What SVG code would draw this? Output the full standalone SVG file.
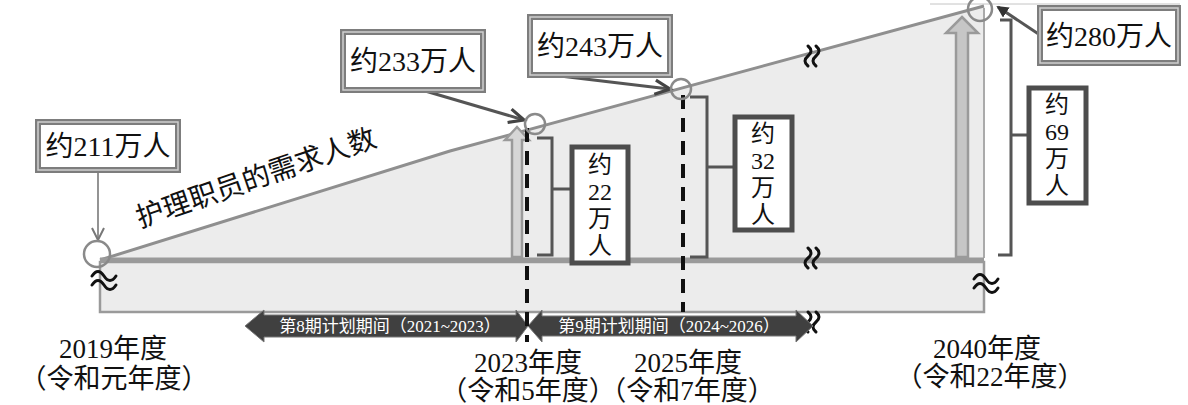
<svg xmlns="http://www.w3.org/2000/svg" width="1188" height="405" viewBox="0 0 1188 405">
<style>
.t{font-family:"Liberation Serif","Noto Sans CJK SC",serif;fill:#111}
.box{fill:#fff;stroke:#7d7d7d;stroke-width:6}
.boxin{fill:none;stroke:#cfcfcf;stroke-width:1.5}
.vbox{fill:#fff;stroke:#4d4d4d;stroke-width:5}
.br{fill:none;stroke:#555;stroke-width:3}
.dash{stroke:#111;stroke-width:4;stroke-dasharray:14 9}
.sq{fill:none;stroke:#111;stroke-width:3;stroke-linecap:round}
.circ{fill:none;stroke:#8a8a8a;stroke-width:2.5}
.con{fill:none;stroke:#555;stroke-width:3}
.head{fill:none;stroke:#444;stroke-width:3.2;stroke-linejoin:miter}
.up{stroke:#9a9a9a;stroke-width:2.5}
.bar{fill:#404040;stroke:#777;stroke-width:1}
.bt{font-family:"Liberation Serif","Noto Sans CJK SC",serif;fill:#fff;font-size:17px}
</style>
<defs>
<marker id="thinA" viewBox="0 0 14 14" refX="13" refY="7" markerWidth="14" markerHeight="14" markerUnits="userSpaceOnUse" orient="auto"><path d="M1,1 L13,7 L1,13" fill="none" stroke="#777" stroke-width="2"/></marker>
<marker id="fillA" viewBox="0 0 12 12" refX="10" refY="6" markerWidth="12" markerHeight="12" markerUnits="userSpaceOnUse" orient="auto"><path d="M0,0 L12,6 L0,12 Z" fill="#333"/></marker>
<g id="sqz"><path class="sq" d="M0,0 q6,5 0,10 q-6,5 0,10"/><path class="sq" d="M8,0 q6,5 0,10 q-6,5 0,10"/></g>
<g id="approx"><path class="sq" stroke-width="3.5" d="M0,4 c4,-6 8,-6 12,0 s8,6 12,0"/><path class="sq" stroke-width="3.5" d="M0,13 c4,-6 8,-6 12,0 s8,6 12,0"/></g>
</defs>

<g id="background">
<line x1="930" y1="4" x2="1180" y2="4" stroke="#c4c4c4" stroke-width="1"/>
<polygon points="100,260 450,151 984,7 984,260" fill="#ececec"/>
<rect x="100" y="262" width="884" height="50" fill="#ececec" stroke="#9a9a9a" stroke-width="2.5"/>
<line x1="984" y1="8" x2="984" y2="258" stroke="#aaa" stroke-width="2"/>
<polyline points="100,260 450,151 984,6" fill="none" stroke="#8f8f8f" stroke-width="3"/>
<line x1="100" y1="260" x2="984" y2="260" stroke="#9a9a9a" stroke-width="5"/>
</g>

<g id="title">
<text class="t" font-size="28" transform="translate(140,228) rotate(-19)">护理职员的需求人数</text>
</g>

<g id="breaks">
<use href="#sqz" x="808" y="46"/>
<use href="#sqz" x="808" y="248"/>
<use href="#sqz" x="808" y="312"/>
<use href="#approx" x="92" y="272"/>
<use href="#approx" x="974" y="275"/>
</g>

<g id="uparrows">
<polygon class="up" fill="#d6d6d6" points="517,127 529,140 522,140 522,257 512,257 512,140 505,140"/>
<polygon class="up" fill="#c6c6c6" points="962,17 978,33 968,33 968,257 956,257 956,33 946,33"/>
</g>

<g id="periods">
<polygon class="bar" points="245,326 264,310 264,315 516,315 516,310 528,326 516,342 516,337 264,337 264,342"/>
<text class="bt" x="390" y="326" text-anchor="middle" dominant-baseline="central">第8期计划期间（2021~2023）</text>
<polygon class="bar" points="528,326 542,310 542,316 796,316 796,310 813,326 796,342 796,336 542,336 542,342"/>
<text class="bt" x="669" y="326" text-anchor="middle" dominant-baseline="central">第9期计划期间（2024~2026）</text>
</g>

<g id="connectors">
<line class="dash" x1="527" y1="128" x2="527" y2="342"/>
<line class="dash" x1="683" y1="95" x2="683" y2="312"/>
<line x1="98" y1="172" x2="98" y2="240" stroke="#888" stroke-width="1.8" marker-end="url(#thinA)"/>
<line class="con" x1="415" y1="88" x2="523" y2="119.7"/>
<path class="head" d="M511.6,109.1 L524,120 L507.6,122.5"/>
<line class="con" x1="560" y1="76" x2="669" y2="88.9"/>
<path class="head" d="M655.9,80.2 L670,89 L654.3,94.2"/>
<line class="con" x1="1040" y1="35" x2="998" y2="7" marker-end="url(#fillA)"/>
<path class="br" d="M537,138 H552 V255 H537 M552,189 H570"/>
<path class="br" d="M690,97 H707 V257 H690 M707,167 H733"/>
<path class="br" d="M1000,20 H1011 V255 H998 M1011,135 H1027"/>
</g>

<g id="points">
<circle class="circ" cx="97" cy="254" r="13"/>
<circle class="circ" cx="535" cy="124" r="10"/>
<circle class="circ" cx="681" cy="89" r="10"/>
<circle class="circ" cx="980" cy="9" r="12"/>
</g>

<g id="n211">
<rect class="box" x="38" y="122" width="140" height="48"/>
<rect class="boxin" x="38" y="122" width="140" height="48"/>
<text class="t" font-size="28" x="108" y="146" text-anchor="middle" dominant-baseline="central">约211万人</text>
</g>
<g id="n233">
<rect class="box" x="343" y="32" width="140" height="58"/>
<rect class="boxin" x="343" y="32" width="140" height="58"/>
<text class="t" font-size="28" x="413" y="61" text-anchor="middle" dominant-baseline="central">约233万人</text>
</g>
<g id="n243">
<rect class="box" x="530" y="17" width="140" height="58"/>
<rect class="boxin" x="530" y="17" width="140" height="58"/>
<text class="t" font-size="28" x="600" y="46" text-anchor="middle" dominant-baseline="central">约243万人</text>
</g>
<g id="n280">
<rect class="box" x="1040" y="8" width="138" height="55"/>
<rect class="boxin" x="1040" y="8" width="138" height="55"/>
<text class="t" font-size="28" x="1109" y="36" text-anchor="middle" dominant-baseline="central">约280万人</text>
</g>

<g id="n22">
<rect class="vbox" x="572" y="147" width="56" height="116"/>
<g class="t" font-size="24" text-anchor="middle" dominant-baseline="central">
<text x="600" y="165">约</text><text x="600" y="192">22</text><text x="600" y="219">万</text><text x="600" y="246">人</text>
</g>
</g>
<g id="n32">
<rect class="vbox" x="735" y="117" width="57" height="113"/>
<g class="t" font-size="24" text-anchor="middle" dominant-baseline="central">
<text x="763" y="134">约</text><text x="763" y="161">32</text><text x="763" y="188">万</text><text x="763" y="215">人</text>
</g>
</g>
<g id="n69">
<rect class="vbox" x="1029" y="88" width="57" height="115"/>
<g class="t" font-size="24" text-anchor="middle" dominant-baseline="central">
<text x="1057" y="105">约</text><text x="1057" y="132">69</text><text x="1057" y="159">万</text><text x="1057" y="186">人</text>
</g>
</g>

<g id="axislabels" class="t" font-size="27" text-anchor="middle">
<text x="113" y="358">2019年度</text>
<text x="114" y="388">（令和元年度）</text>
<text x="528" y="372">2023年度</text>
<text x="528" y="400">（令和5年度）</text>
<text x="688" y="372">2025年度</text>
<text x="687" y="400">（令和7年度）</text>
<text x="987" y="358">2040年度</text>
<text x="990" y="386">（令和22年度）</text>
</g>
</svg>
